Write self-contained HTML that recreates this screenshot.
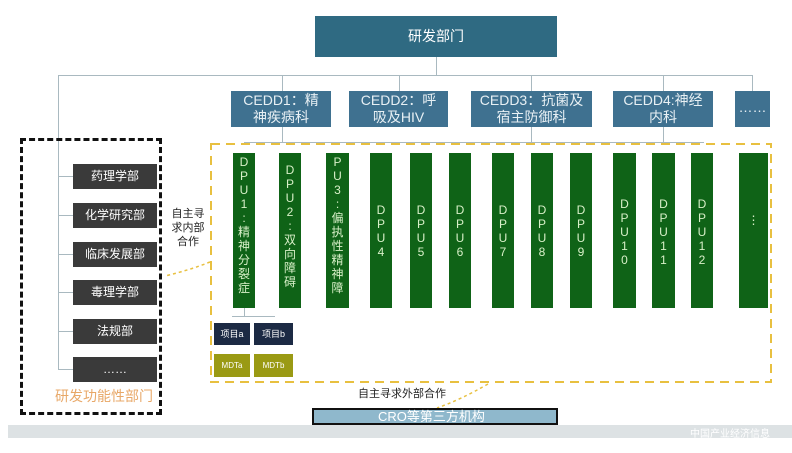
<!DOCTYPE html>
<html><head><meta charset="utf-8"><style>
body{margin:0;width:792px;height:453px;background:#fff;position:relative;overflow:hidden;font-family:"Liberation Sans","Noto Sans CJK SC",sans-serif}
.a{position:absolute;box-sizing:border-box}
.ced{background:#3f7190;color:#e8f0f4;font-size:14px;line-height:17px;text-align:center;padding-top:1px}
.dpu{background:#0f6317;color:#d8f0c8;font-size:12px;line-height:14px;text-align:center;top:153px;height:155px;padding-top:2px;word-break:break-all}
.dep{background:#3a3a3a;color:#fff;font-size:12px;text-align:center;line-height:25px;left:73px;width:84px;height:25px}
.ln{position:absolute;background:#a9b9c0}
</style></head><body>
<div class="a" style="left:315px;top:16px;width:242px;height:41px;background:#2f6a82;color:#fff;font-size:14px;line-height:41px;padding-left:93px">研发部门</div>
<div class="ln" style="left:436px;top:57px;width:1px;height:18px"></div>
<div class="ln" style="left:58px;top:75px;width:695px;height:1px"></div>
<div class="ln" style="left:58px;top:75px;width:1px;height:295px"></div>
<div class="ln" style="left:282px;top:75px;width:1px;height:16px"></div>
<div class="ln" style="left:399px;top:75px;width:1px;height:16px"></div>
<div class="ln" style="left:531px;top:75px;width:1px;height:16px"></div>
<div class="ln" style="left:663px;top:75px;width:1px;height:16px"></div>
<div class="ln" style="left:752px;top:75px;width:1px;height:16px"></div>
<div class="a ced" style="left:231px;top:91px;width:100px;height:36px">CEDD1：精<br>神疾病科</div>
<div class="a ced" style="left:349px;top:91px;width:99px;height:36px">CEDD2：呼<br>吸及HIV</div>
<div class="a ced" style="left:471px;top:91px;width:121px;height:36px">CEDD3：抗菌及<br>宿主防御科</div>
<div class="a ced" style="left:613px;top:91px;width:100px;height:36px">CEDD4:神经<br>内科</div>
<div class="a ced" style="left:735px;top:91px;width:35px;height:36px;line-height:30px">……</div>
<div class="ln" style="left:282px;top:127px;width:1px;height:15px"></div>
<div class="ln" style="left:531px;top:127px;width:1px;height:15px"></div>
<div class="ln" style="left:663px;top:127px;width:1px;height:15px"></div>
<div class="ln" style="left:244px;top:142px;width:460px;height:1px"></div>
<svg class="a" style="left:0;top:0" width="792" height="453"><rect x="211" y="144" width="560" height="238" fill="none" stroke="#e8c040" stroke-width="2" stroke-dasharray="9,6"/></svg>
<div class="a dpu" style="left:233px;width:22px">D<br>P<br>U<br>1<br>:<br>精<br>神<br>分<br>裂<br>症</div>
<div class="a dpu" style="left:279px;width:22px;padding-top:10px">D<br>P<br>U<br>2<br>:<br>双<br>向<br>障<br>碍</div>
<div class="a dpu" style="left:326px;width:23px">P<br>U<br>3<br>:<br>偏<br>执<br>性<br>精<br>神<br>障</div>
<div class="a dpu" style="left:370px;width:22px;padding-top:50px">D<br>P<br>U<br>4</div>
<div class="a dpu" style="left:410px;width:22px;padding-top:50px">D<br>P<br>U<br>5</div>
<div class="a dpu" style="left:449px;width:22px;padding-top:50px">D<br>P<br>U<br>6</div>
<div class="a dpu" style="left:492px;width:22px;padding-top:50px">D<br>P<br>U<br>7</div>
<div class="a dpu" style="left:531px;width:22px;padding-top:50px">D<br>P<br>U<br>8</div>
<div class="a dpu" style="left:570px;width:22px;padding-top:50px">D<br>P<br>U<br>9</div>
<div class="a dpu" style="left:613px;width:23px;padding-top:44px">D<br>P<br>U<br>1<br>0</div>
<div class="a dpu" style="left:652px;width:23px;padding-top:44px">D<br>P<br>U<br>1<br>1</div>
<div class="a dpu" style="left:691px;width:22px;padding-top:44px">D<br>P<br>U<br>1<br>2</div>
<div class="a dpu" style="left:739px;width:29px;padding-top:60px">⋮</div>
<div class="a" style="left:20px;top:138px;width:142px;height:277px;border:3px dashed #111"></div>
<div class="a dep" style="top:164px">药理学部</div>
<div class="a dep" style="top:203px">化学研究部</div>
<div class="a dep" style="top:242px">临床发展部</div>
<div class="a dep" style="top:280px">毒理学部</div>
<div class="a dep" style="top:319px">法规部</div>
<div class="a dep" style="top:357px">……</div>
<div class="ln" style="left:58px;top:176px;width:15px;height:1px"></div>
<div class="ln" style="left:58px;top:215px;width:15px;height:1px"></div>
<div class="ln" style="left:58px;top:254px;width:15px;height:1px"></div>
<div class="ln" style="left:58px;top:292px;width:15px;height:1px"></div>
<div class="ln" style="left:58px;top:331px;width:15px;height:1px"></div>
<div class="ln" style="left:58px;top:369px;width:15px;height:1px"></div>
<div class="a" style="left:55px;top:386px;font-size:14px;color:#e8a868">研发功能性部门</div>
<div class="a" style="left:170px;top:207px;font-size:11px;line-height:14px;color:#222;text-align:center;width:36px">自主寻<br>求内部<br>合作</div>
<div class="ln" style="left:244px;top:308px;width:1px;height:8px"></div>
<div class="ln" style="left:232px;top:316px;width:43px;height:1px"></div>
<div class="a" style="left:214px;top:323px;width:36px;height:22px;background:#1c2a44;color:#fff;font-size:9px;line-height:22px;text-align:center">项目a</div>
<div class="a" style="left:254px;top:323px;width:39px;height:22px;background:#1c2a44;color:#fff;font-size:9px;line-height:22px;text-align:center">项目b</div>
<div class="a" style="left:214px;top:354px;width:36px;height:23px;background:#9a9a14;color:#fff;font-size:8px;line-height:23px;text-align:center">MDTa</div>
<div class="a" style="left:254px;top:354px;width:39px;height:23px;background:#9a9a14;color:#fff;font-size:8px;line-height:23px;text-align:center">MDTb</div>
<svg class="a" style="left:0;top:0" width="792" height="453"><path d="M210 262 Q190 270 165 276" stroke="#e8c040" stroke-width="1.5" stroke-dasharray="3,3" fill="none"/><path d="M488 384 Q460 400 437 408" stroke="#e8c040" stroke-width="1.5" stroke-dasharray="3,3" fill="none"/></svg>
<div class="a" style="left:358px;top:385px;font-size:11px;color:#222">自主寻求外部合作</div>
<div class="a" style="left:312px;top:408px;width:246px;height:17px;background:#8fb8cc;border:2px solid #111;color:#fff;font-size:13px;line-height:13px;padding-left:64px">CRO等第三方机构</div>
<div class="a" style="left:8px;top:425px;width:784px;height:13px;background:#dde2e4"></div>
<div class="a" style="left:690px;top:425px;font-size:10px;color:#fff">中国产业经济信息</div>
</body></html>
